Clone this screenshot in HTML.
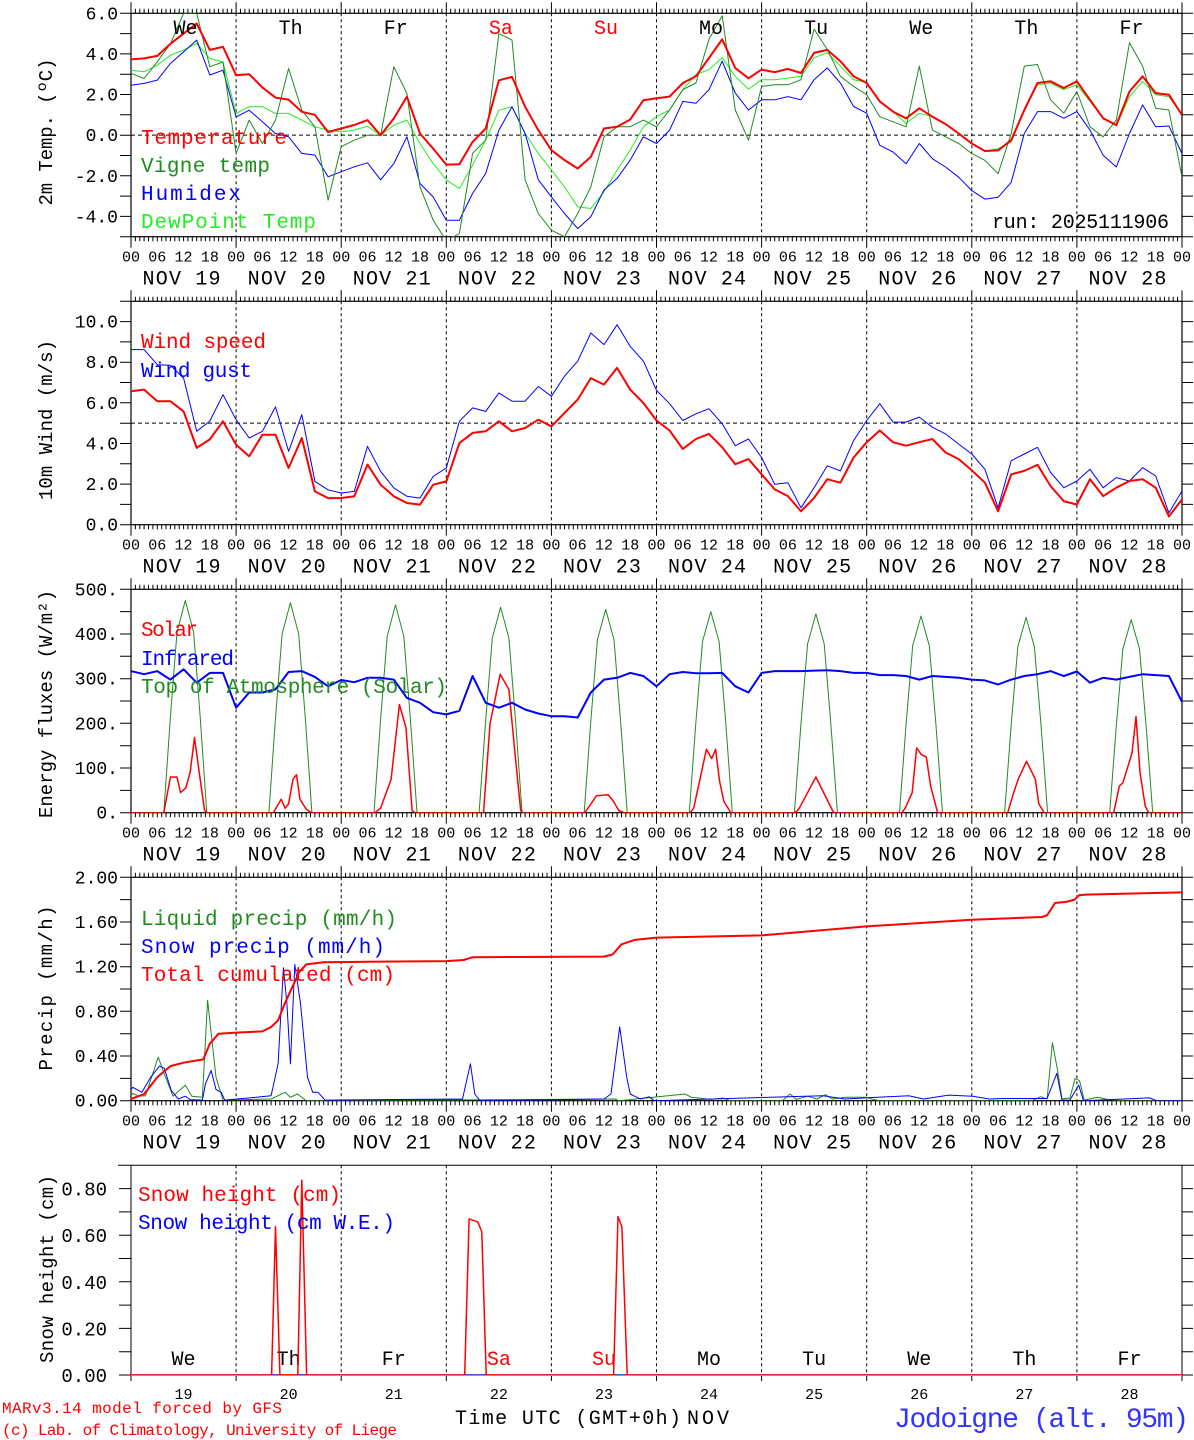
<!DOCTYPE html>
<html><head><meta charset="utf-8"><title>MAR forecast Jodoigne</title>
<style>
html,body{margin:0;padding:0;background:#fff;}
svg{display:block;font-family:"Liberation Mono",monospace;}
</style></head>
<body>
<svg id="chart" xmlns="http://www.w3.org/2000/svg" width="1194" height="1440" viewBox="0 0 1194 1440">
<rect x="0" y="0" width="1194" height="1440" fill="#fff"/>
<defs id="defs"></defs>
<text x="2" y="1413" font-size="16" fill="#ff0000" textLength="280">MARv3.14 model forced by GFS</text>
<text x="2" y="1435" font-size="16" fill="#ff0000" textLength="395">(c) Lab. of Climatology, University of Liege</text>
<text x="455" y="1424" font-size="20" fill="#000" textLength="226">Time UTC (GMT+0h)</text>
<text x="687" y="1424" font-size="20" fill="#000" textLength="42">NOV</text>
<text x="894" y="1427" font-size="28" fill="#3333ff" textLength="295">Jodoigne (alt. 95m)</text>
</svg>
<script>
// ---------- data ----------
const dayLabels = ['We','Th','Fr','Sa','Su','Mo','Tu','We','Th','Fr'];
const dateLabels = ['19','20','21','22','23','24','25','26','27','28'];
const hourLabels = ['00','06','12','18'];

const tempVals = [3.73,3.78,3.9,4.5,5.0,5.5,4.2,4.35, 2.95,3.0,2.35,1.85,1.75,1.15,1.0,0.15, 0.33,0.5,0.74,0,0.82,1.9,0.08,-0.66, -1.45,-1.43,-0.33,0.33,2.7,2.87,1.4,0.25, -0.74,-1.23,-1.64,-1.07,0.33,0.41,0.77,1.72, 1.82,1.9,2.57,2.9,3.8,4.72,3.3,2.8, 3.23,3.1,3.26,3.06,4.05,4.2,3.64,2.9, 2.57,1.66,1.16,0.83,1.32,0.91,0.55,0.08, -0.41,-0.78,-0.75,-0.25,1.24,2.57,2.65,2.32, 2.65,1.74,0.83,0.5,2.15,2.9,2.07,1.99, 0.99];
const vigneVals = [3.04,2.79,3.61,4.5,6.0,6.0,3.37,3.6, -0.9,0.74,-0.41,0.74,3.28,1.23,0.41,-3.2, -0.57,-0.25,0,0,3.37,2.05,-2.55,-4.19, -5.2,-4.84,-0.9,-0.25,5.0,4.68,-2.2,-3.86, -4.68,-5.0,-3.86,-2.55,-0.08,0.41,0.41,0.74, 0.41,1.24,2.24,2.57,4.72,5.88,1.24,-0.25, 2.4,2.48,2.48,2.73,5.22,4.22,2.9,2.4, 1.99,0.91,0.66,0.41,3.4,0.25,-0.08,-0.41, -0.91,-1.24,-1.9,0.08,3.4,3.48,1.74,1.08, 2.15,0.41,-0.08,0.74,4.55,3.4,1.32,1.24, -2.07];
const humidexVals = [2.46,2.55,2.71,3.53,4.1,4.68,2.96,3.2, 0.9,1.23,0.66,0.08,-0.08,-0.9,-0.98,-2.05, -1.8,-1.56,-1.36,-2.2,-1.4,-0.08,-2.38,-3.04, -4.19,-4.19,-2.87,-1.89,0.25,1.4,0.08,-2.2, -3.04,-3.86,-4.6,-4.02,-2.7,-2.13,-1.23,-0.08, -0.41,0.25,1.66,1.57,2.24,3.64,2.07,1.24, 1.74,1.74,1.9,1.74,2.73,3.31,2.57,1.41, 1.08,-0.5,-0.83,-1.41,-0.41,-1.16,-1.57,-2.07, -2.73,-3.15,-3.06,-2.32,0.08,1.16,1.16,0.83, 1.16,0.25,-0.99,-1.57,0.08,1.49,0.41,0.45, -0.91];
const dewVals = [3.2,3.12,3.45,3.94,4.19,4.52,3.78,3.6, 1.07,1.4,1.4,1.07,1.07,0.74,0.41,0.25, 0.16,0.25,0.44,0,0.49,0.74,-0.41,-1.4, -2.2,-2.63,-1.48,-0.25,1.23,1.4,0.08,-0.9, -1.72,-2.55,-3.53,-3.61,-2.79,-1.72,-0.74,0.41, 0.91,1.24,2.24,2.98,3.23,3.81,2.9,2.27, 2.73,2.73,2.81,2.9,3.81,4.06,3.4,2.73, 2.6,1.66,1.16,0.58,1.08,0.91,0.55,0.08, -0.41,-0.78,-0.66,-0.33,1.24,2.48,2.57,2.24, 2.48,1.66,0.83,0.45,1.9,2.65,1.99,1.9, 0.99];

const windVals = [6.57,6.65,6.08,6.08,5.58,3.78,4.2,5.09, 3.94,3.37,4.43,4.43,2.79,4.27,1.64,1.31, 1.31,1.4,2.96,1.97,1.4,1.07,0.99,1.97, 2.13,4.02,4.52,4.6,5.09,4.6,4.76,5.17, 4.84,5.5,6.16,7.22,6.9,7.72,6.65,5.99, 5.13,4.64,3.73,4.22,4.47,3.81,2.98,3.23, 2.48,1.74,1.41,0.66,1.32,2.24,2.07,3.31, 4.06,4.64,4.06,3.89,4.06,4.22,3.56,3.23, 2.68,2.07,0.66,2.48,2.65,2.95,1.9,1.16, 0.99,2.24,1.41,1.82,2.15,2.24,1.82,0.41, 1.24];
const gustVals = [8.62,8.62,7.88,7.85,7.22,4.6,5.1,6.4, 5.17,4.27,4.6,5.8,3.61,5.42,2.13,1.72, 1.56,1.64,3.86,2.63,1.81,1.4,1.31,2.38, 2.79,5.09,5.75,5.58,6.49,6.08,6.08,6.81, 6.32,7.31,8.05,9.44,8.87,9.85,8.78,8.05, 6.62,5.96,5.13,5.46,5.71,4.97,3.89,4.22, 3.31,1.99,2.07,0.83,1.82,2.9,2.65,4.14, 5.13,5.96,5.05,5.05,5.3,4.8,4.47,3.97, 3.48,2.73,0.83,3.15,3.48,3.81,2.57,1.82, 2.15,2.73,1.82,2.32,2.15,2.81,2.4,0.58, 1.66];

const irVals = [317,310,317,298,321,291,313,313, 235,269,269,276,315,317,304,283, 297,292,302,302,298,257,246,225, 220,228,306,246,235,246,231,222, 216,216,213,269,298,302,313,306, 283,310,315,312,312,313,283,269, 313,317,317,317,318,319,317,313, 313,308,308,306,298,306,304,302, 298,296,287,298,306,310,317,306, 316,291,302,298,304,310,308,306, 248];
const solHours = [0,7.5,9,10.5,11.3,12.5,13.5,14.5,16,16.8,17.5, 32.5,34.3,35.2,36,37,37.8,38.6,40,41.2, 55.7,57,59.4,61.3,62.8,64.2,64.8, 80.5,82,84.3,86.3,87.6,89,89.5, 103.6,104.7,106.3,109,110.2,111.4,112.6, 127.7,128.5,131.4,132.6,133.5,134.4,135.4,137, 151.7,152.6,156.4,160.2,160.6, 176,176.8,178.4,179.4,180.5,181.6,182.6,184.2, 200.2,201.4,202.6,204.5,206.5,207.3,208.5, 224.4,225.7,226.5,228.1,228.6,229.5,230.4,231.6,232.4,240];
const solVals = [0,0,80,80,45,55,90,168,60,5,0, 0,30,10,20,75,85,30,8,0, 0,10,75,242,190,5,0, 0,200,310,276,142,5,0, 0,15,38,40,25,5,0, 0,10,142,121,142,70,25,0, 0,10,80,5,0, 0,10,45,145,130,125,60,0, 0,40,75,115,75,20,0, 0,60,67,118,135,215,90,15,0,0];
const toaHours = [0, 7.5,9,10.5,12.4,14.3,15.8,17.3, 31.5,33,34.5,36.4,38.3,39.8,41.3, 55.5,57,58.5,60.4,62.3,63.8,65.3, 79.5,81,82.5,84.4,86.3,87.8,89.3, 103.5,105,106.5,108.4,110.3,111.8,113.3, 127.5,129,130.5,132.4,134.3,135.8,137.3, 151.5,153,154.5,156.4,158.3,159.8,161.3, 175.5,177,178.5,180.4,182.3,183.8,185.3, 199.5,201,202.5,204.4,206.3,207.8,209.3, 223.5,225,226.5,228.4,230.3,231.8,233.3, 240];
const toaVals = [0, 0,214,404,475,404,214,0, 0,212,400,470,400,212,0, 0,209,395,465,395,209,0, 0,207,391,460,391,207,0, 0,205,387,455,387,205,0, 0,203,383,450,383,203,0, 0,200,378,445,378,200,0, 0,198,374,440,374,198,0, 0,197,371,437,371,197,0, 0,194,367,432,367,194,0, 0];

const liqHours = [0,0.4,1.7,3.3,6.2,7.6,9.6,12.4,13.9,16.3,17.5,19.4,21,32,35.2,36.4,38,40,110.4,111.5,126.5,128,132.4,135.2,136.8,148.7,150.5,151.9,154.6,156.6,158.6,160.2,163.3,167.7,170.8,205.7,207.7,209.2,210.4,211.6,212.6,214.4,215.6,216.6,217.7,220.7,223,226.3,240];
const liqVals = [0.05,0.065,0.04,0.045,0.39,0.24,0.04,0.14,0.04,0.03,0.9,0.21,0.005,0.015,0.075,0.03,0.06,0,0.015,0,0.06,0.03,0.012,0.024,0,0,0.06,0.012,0.04,0.015,0.054,0.015,0.03,0.03,0,0,0.036,0.015,0.52,0.27,0.015,0.024,0.2,0.18,0.005,0.03,0.012,0,0];
const snHours = [0,0.4,2.5,4.5,6.5,7.6,9.2,10.8,12.4,13.5,16.3,17,18.3,19.4,20.6,21.4,29.7,32,33.6,34.8,35.6,36.4,37.4,38.7,40.3,41.5,42.7,44.3,75.7,77.5,78.5,79.7,108,109.6,111.6,113.2,114,116.3,118.3,119.5,158,163,177.6,181,186.7,192.2,196,199.3,202.5,209.2,211.4,212.6,214.4,216.4,217.5,232.6,234.2,240];
const snVals = [0.1,0.12,0.075,0.21,0.31,0.29,0.09,0.015,0.04,0.01,0.005,0.15,0.27,0.1,0.075,0.005,0.035,0.045,0.33,1.19,0.87,0.33,1.22,0.87,0.21,0.075,0.075,0.005,0.015,0.33,0.06,0,0.015,0.06,0.66,0.21,0.06,0.015,0.035,0,0.045,0.015,0.045,0.015,0.05,0.04,0.015,0.02,0.02,0.02,0.245,0.005,0.005,0.14,0,0.025,0,0];
const cumHours = [0,3,6,9,12,15,16.5,18,20,24,30,32,33.6,35,37,38.4,40,44,72,76,78,108,110,112,115,120,144,168,192,208,209.2,211,213.5,215.5,216.5,218,240];
const cumVals = [0.015,0.06,0.21,0.31,0.34,0.36,0.37,0.51,0.6,0.61,0.62,0.66,0.72,0.86,1.03,1.15,1.22,1.24,1.25,1.26,1.285,1.29,1.31,1.40,1.44,1.46,1.48,1.56,1.62,1.645,1.66,1.77,1.78,1.80,1.84,1.845,1.865];

const snowHours = [0,32.1,33,34,38.1,39,40.1,76.2,77.2,79.2,80.1,81.1,110.2,111.2,112.1,113.3,240];
const snowVals = [0,0,0.636,0,0,0.836,0,0,0.67,0.657,0.614,0,0,0.68,0.636,0,0];
const snowWeHours = [0,240];
const snowWeVals = [0,0];

// ---------- rendering ----------
const svg = document.getElementById('chart');
const defs = document.getElementById('defs');
const NS = 'http://www.w3.org/2000/svg';
function mk(tag, attrs, parent){
  const e = document.createElementNS(NS, tag);
  for (const k in attrs) e.setAttribute(k, attrs[k]);
  (parent || svg).appendChild(e);
  return e;
}
const X0 = 131, X1 = 1182;
function xh(h){ return X0 + (X1 - X0) * h / 240; }
const hours3 = Array.from({length: 81}, (_, i) => i * 3);

function makePanel(i, top, bot, vmin, vmax){
  const p = {i, top, bot, vmin, vmax};
  p.y = v => bot - (v - vmin) / (vmax - vmin) * (bot - top);
  const cp = mk('clipPath', {id: 'clip' + i}, defs);
  mk('rect', {x: X0, y: top, width: X1 - X0, height: bot - top}, cp);
  return p;
}
const P = [
  makePanel(0, 13.3, 236.7, -5, 6),
  makePanel(1, 301.3, 524.7, 0, 11),
  makePanel(2, 589.3, 812.7, 0, 500),
  makePanel(3, 877.3, 1100.7, 0, 2.0),
  makePanel(4, 1165.3, 1375, 0, 0.9)
];

function txt(x, y, s, size, color, anchor, len){
  const a = {x: x, y: y, 'font-size': size, fill: color || '#000', 'text-anchor': anchor || 'start'};
  if (len) { a.textLength = len; a.lengthAdjust = 'spacing'; }
  const t = mk('text', a);
  t.textContent = s;
  return t;
}

function drawFrame(p, yTickStep, yLabelVals, yLabelFmt, title, titleLen, titleY){
  const g = mk('g', {});
  
  
  for (let d = 1; d < 10; d++){
    const l = mk('line', {x1: xh(d*24), x2: xh(d*24), y1: p.top, y2: p.bot, stroke: '#000', 'stroke-width': 1, 'stroke-dasharray': '3,3'}, g);
    
    
  }
  const r = mk('rect', {x: X0, y: p.top, width: X1 - X0, height: p.bot - p.top, fill: 'none', stroke: '#000', 'stroke-width': 1.2}, g);
  
  
  let dpath = '';
  for (let h = 0; h <= 240; h++){
    const major = h % 24 === 0;
    const len = major ? 11 : 4.5;
    dpath += 'M' + xh(h).toFixed(1) + ' ' + p.top + 'v' + (-len) + 'M' + xh(h).toFixed(1) + ' ' + p.bot + 'v' + len;
  }
  const n = Math.round((p.vmax - p.vmin) / yTickStep);
  for (let k = 0; k <= n; k++){
    const yy = p.y(p.vmin + k * yTickStep).toFixed(1);
    dpath += 'M' + X0 + ' ' + yy + 'h-11M' + X1 + ' ' + yy + 'h11';
  }
  const tk = mk('path', {d: dpath, stroke: '#000', 'stroke-width': 1, fill: 'none'}, g);
  
  
  yLabelVals.forEach(v => {
    const t = txt(118, p.y(v) + 6, yLabelFmt(v), 18, '#000', 'end');
    
    
  });
  for (let d = 0; d < 10; d++){
    hourLabels.forEach((s, j) => {
      const t = txt(xh(d*24 + j*6), p.bot + 25, s, 15, '#000', 'middle');
      
      
    });
    const t2 = txt(xh(d*24 + 12) - 2, p.bot + 48, 'NOV ' + dateLabels[d], 20, '#000', 'middle', 78);
    
    
  }
  const tl = txt(xh(240), p.bot + 25, '00', 15, '#000', 'middle');
  
  
  const tt = mk('text', {x: 0, y: 0, 'font-size': 19, fill: '#000', 'text-anchor': 'middle', textLength: titleLen, lengthAdjust: 'spacing', transform: 'translate(52,' + titleY + ') rotate(-90)'});
  tt.textContent = title;
  
  
}

function hline(p, v){
  const l = mk('line', {x1: X0, x2: X1, y1: p.y(v), y2: p.y(v), stroke: '#000', 'stroke-width': 1, 'stroke-dasharray': '4,3'});
  
  
}

function series(p, hours, vals, color, width, name){
  const pts = hours.map((h, k) => xh(h).toFixed(1) + ',' + p.y(vals[k]).toFixed(1)).join(' ');
  const el = mk('polyline', {points: pts, fill: 'none', stroke: color, 'stroke-width': width, 'stroke-linejoin': 'round', 'clip-path': 'url(#clip' + p.i + ')'});
  
  
}

function legend(x, y, s, color, len, name){
  const t = txt(x, y, s, 21, color, 'start', len);
  
  
}

const RED = '#ff0000', DG = '#1e8c1e', BLUE = '#0000ff', LIME = '#22ee22';

// Panel 1 temperature
drawFrame(P[0], 1, [6,4,2,0,-2,-4], v => v.toFixed(1), '2m Temp. (ºC)', 147, 132);
hline(P[0], 0);
series(P[0], hours3, dewVals, LIME, 1, 'dewpoint-line');
series(P[0], hours3, humidexVals, BLUE, 1, 'humidex-line');
series(P[0], hours3, vigneVals, DG, 1, 'vigne-temp-line');
series(P[0], hours3, tempVals, RED, 2, 'temperature-line');
dayLabels.forEach((s, d) => {
  const t = txt(xh(d*24 + 12) + 2, 34, s, 20, (s === 'Sa' || s === 'Su') ? RED : '#000', 'middle');
  
  
});
legend(141, 144, 'Temperature', RED, 146, 'legend-temperature');
legend(141, 172, 'Vigne temp', DG, 129, 'legend-vigne-temp');
legend(141, 200, 'Humidex', BLUE, 100, 'legend-humidex');
legend(141, 228, 'DewPoint Temp', LIME, 175, 'legend-dewpoint');
const run = txt(1169, 228, 'run: 2025111906', 20, '#000', 'end', 177);



// Panel 2 wind
drawFrame(P[1], 1, [10,8,6,4,2,0], v => v.toFixed(1), '10m Wind (m/s)', 160, 420);
hline(P[1], 5);
series(P[1], hours3, gustVals, BLUE, 1, 'wind-gust-line');
series(P[1], hours3, windVals, RED, 2, 'wind-speed-line');
legend(141, 348, 'Wind speed', RED, 125, 'legend-wind-speed');
legend(141, 377, 'Wind gust', BLUE, 111, 'legend-wind-gust');

// Panel 3 energy
drawFrame(P[2], 50, [500,400,300,200,100,0], v => v + '.', 'Energy fluxes (W/m²)', 228, 704);
series(P[2], toaHours, toaVals, DG, 1, 'toa-solar-line');
series(P[2], solHours, solVals, RED, 1.5, 'solar-line');
series(P[2], hours3, irVals, BLUE, 2, 'infrared-line');
legend(141, 636, 'Solar', RED, 57, 'legend-solar');
legend(141, 665, 'Infrared', BLUE, 93, 'legend-infrared');
legend(141, 693, 'Top of Atmosphere (Solar)', DG, 306, 'legend-toa');

// Panel 4 precip
drawFrame(P[3], 0.2, [2.0,1.6,1.2,0.8,0.4,0], v => v.toFixed(2), 'Precip (mm/h)', 165, 988);
series(P[3], liqHours, liqVals, DG, 1, 'liquid-precip-line');
series(P[3], snHours, snVals, BLUE, 1, 'snow-precip-line');
series(P[3], cumHours, cumVals, RED, 2, 'cumulated-precip-line');
legend(141, 925, 'Liquid precip (mm/h)', DG, 256, 'legend-liquid');
legend(141, 953, 'Snow precip (mm/h)', BLUE, 244, 'legend-snow-precip');
legend(141, 981, 'Total cumulated (cm)', RED, 254, 'legend-cumulated');

// Panel 5 snow height
(function(){
  const p = P[4];
  const g = mk('g', {});
  
  
  for (let d = 1; d < 10; d++){
    const l = mk('line', {x1: xh(d*24), x2: xh(d*24), y1: p.top, y2: p.bot, stroke: '#000', 'stroke-width': 1, 'stroke-dasharray': '3,3'}, g);
    
    
  }
  let d = 'M118 ' + p.top + 'H1194M' + X0 + ' ' + p.top + 'V' + p.bot + 'M' + X1 + ' ' + p.top + 'V' + p.bot;
  for (let k = 0; k <= 9; k++){
    const yy = p.y(k * 0.1).toFixed(1);
    d += 'M' + X0 + ' ' + yy + 'h-12M' + X1 + ' ' + yy + 'h11';
  }
  for (let k = 0; k <= 10; k++){ d += 'M' + xh(k*24).toFixed(1) + ' ' + p.bot + 'v6'; }
  const ax = mk('path', {d: d, stroke: '#000', 'stroke-width': 1, fill: 'none'}, g);
  
  
  const base = mk('line', {x1: X0, x2: X1, y1: p.bot, y2: p.bot, stroke: '#999', 'stroke-width': 2}, g);
  
  
  [0.8,0.6,0.4,0.2,0].forEach(v => {
    const t = txt(107, p.y(v) + 7, v.toFixed(2), 19, '#000', 'end');
    
    
  });
  dayLabels.forEach((s, k) => {
    const t = txt(xh(k*24 + 12), 1365, s, 20, (s === 'Sa' || s === 'Su') ? RED : '#000', 'middle');
    
    
    const t2 = txt(xh(k*24 + 12), 1399, dateLabels[k], 15, '#000', 'middle');
    
    
  });
  const tt = mk('text', {x: 0, y: 0, 'font-size': 19, fill: '#000', 'text-anchor': 'middle', textLength: 188, lengthAdjust: 'spacing', transform: 'translate(53,1269) rotate(-90)'});
  tt.textContent = 'Snow height (cm)';
  
  
  series(p, snowWeHours, snowWeVals, BLUE, 1, 'snow-height-we-line');
  series(p, snowHours, snowVals, RED, 1.5, 'snow-height-line');
  legend(138, 1201, 'Snow height (cm)', RED, 203, 'legend-snow-height');
  legend(138, 1229, 'Snow height (cm W.E.)', BLUE, 257, 'legend-snow-height-we');
})();
</script>
</body></html>
